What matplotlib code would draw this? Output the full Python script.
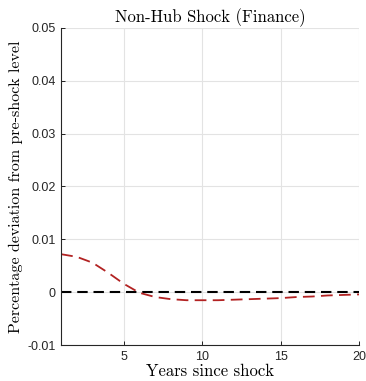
import numpy as np
import matplotlib.pyplot as plt

# impulse response of finance sector to a non-hub shock
years = np.arange(1, 21)
response = [0.0072, 0.0067, 0.0056, 0.0037, 0.0016, -0.0001, -0.0009, -0.0013,
            -0.0015, -0.0015, -0.0015, -0.0014, -0.0013, -0.0012, -0.0011,
            -0.0009, -0.0008, -0.0006, -0.0005, -0.0004]

xticks = [5, 10, 15, 20]
yticks = [-0.01, 0, 0.01, 0.02, 0.03, 0.04, 0.05]
ytick_labels = ['-0.01', '0', '0.01', '0.02', '0.03', '0.04', '0.05']

fig = plt.figure(figsize=(3.66, 3.81), dpi=100)
ax = fig.add_axes([0.167, 0.094, 0.814, 0.833])

ax.plot(years, np.zeros(len(years)), color='black', linestyle=(0, (5, 2.8)), linewidth=1.5)
ax.plot(years, response, color='#b22222', linestyle=(0, (6.5, 3.5)), linewidth=1.3)

ax.set_xlim(1, 20)
ax.set_ylim(-0.01, 0.05)
ax.set_xticks(xticks)
ax.set_xticklabels([str(t) for t in xticks], family='Liberation Sans', fontsize=9, color='#262626')
ax.set_yticks(yticks)
ax.set_yticklabels(ytick_labels, family='Liberation Sans', fontsize=9, color='#262626')
ax.tick_params(direction='in', length=3, width=0.6, pad=4)

ax.grid(True, color='#e3e3e3', linewidth=0.8)
ax.set_axisbelow(True)
for side in ['top', 'right']:
    ax.spines[side].set_visible(False)
for side in ['left', 'bottom']:
    ax.spines[side].set_linewidth(0.8)
    ax.spines[side].set_color('#262626')

ax.set_title('Non-Hub Shock (Finance)', family='cmr10', fontsize=12, pad=4)
ax.set_xlabel('Years since shock', family='cmr10', fontsize=12, labelpad=1)
ax.set_ylabel('Percentage deviation from pre-shock level', family='cmr10', fontsize=11.5, labelpad=3)

fig.savefig('out.png', dpi=100)
